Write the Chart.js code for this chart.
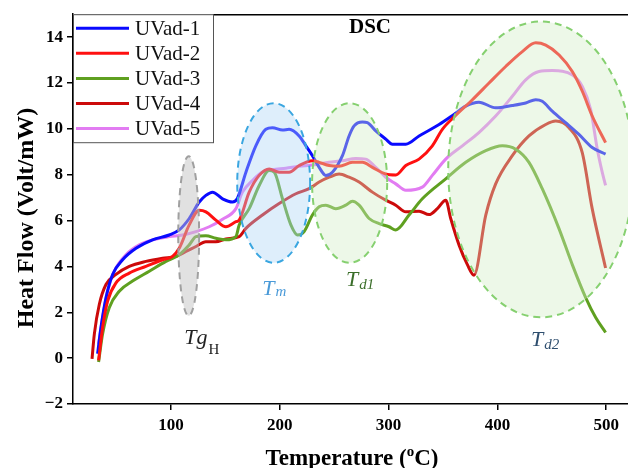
<!DOCTYPE html>
<html>
<head>
<meta charset="utf-8">
<script src="https://cdn.jsdelivr.net/npm/chart.js@4/dist/chart.umd.min.js"></script>
<style>
html,body{margin:0;padding:0;background:#fff;}
#wrap{position:relative;width:628px;height:468px;}
</style>
</head>
<body>
<div id="wrap"><canvas id="c" width="628" height="468"></canvas></div>
<script>
// ---- data ----
const seriesNames = ['UVad-1','UVad-2','UVad-3','UVad-4','UVad-5'];
const xTicks = [100,200,300,400,500];
const yTicks = [-2,0,2,4,6,8,10,12,14];

const uv1T = [32.6,35.7,40.3,46.4,55.6,67.9,83.1,98.4,107.6,116.8,126,132.1,138.2,147.4,156.6,160.9,168.9,178.1,187.2,193.3,202.5,208.6,217.8,224,230,236.2,242.3,248.4,257.6,263.7,268.3,275.9,280.5,288.2,297.4,303.5,315.8,328,346.4,360.1,370.9,383,398.4,413.7,426,435.2,441.2,450.4,462.7,474.9,487.1,499.4];
const uv1H = [0.19,1.34,2.63,3.65,4.29,4.79,5.16,5.37,5.59,6.09,6.81,7.10,7.24,6.95,6.81,6.95,8.11,9.27,9.98,10.05,9.95,9.98,9.69,9.26,8.83,8.32,7.97,8.11,8.83,9.69,10.13,10.3,10.27,9.91,9.55,9.33,9.33,9.69,10.19,10.63,10.99,11.16,10.92,11.02,11.13,11.27,11.2,10.77,10.27,9.76,9.19,8.9];

const uv2T = [33.5,37.2,41.8,49.5,61.7,77,92.3,101.5,107.6,116.8,126,132.1,141.3,150.5,159.7,162.7,171.9,181.1,190.3,199.4,208.6,217.8,230,236.2,245.4,254.5,266.8,276,285.1,297.4,306.6,315.8,328,340.2,349.4,361.1,377,392.3,407.6,422.9,435.2,444.4,456.7,468.8,478,487.1,499.4];
const uv2H = [-0.10,1.34,2.49,3.28,3.71,4.0,4.29,4.44,4.79,5.81,6.45,6.38,6.02,5.73,5.95,6.02,7.24,7.97,8.25,8.11,8.11,8.40,8.61,8.54,8.40,8.37,8.54,8.54,8.32,8.03,7.99,8.40,8.68,9.26,9.98,10.56,11.27,12.0,12.72,13.37,13.75,13.65,13.22,12.5,11.64,10.56,9.4];

const uv3T = [33.5,37.2,43.3,52.5,64.7,80.1,95.4,107.6,116.8,123,132.1,141.3,150.5,159.7,162.7,171.9,181.1,190.3,194.9,202.5,210.2,216.3,222.4,230,236.2,242.3,251.5,260.7,266.8,272.9,282.1,291.3,300.4,306.6,318.8,331,352.5,370.9,389.3,404.5,416.8,429,441.2,456.5,468.8,481.1,490.3,499.4];
const uv3H = [-0.17,1.05,2.20,2.92,3.36,3.79,4.22,4.51,4.94,5.30,5.34,5.23,5.16,5.30,5.81,6.52,7.53,8.18,8.11,6.95,5.81,5.37,5.52,6.24,6.60,6.67,6.52,6.67,6.84,6.67,6.09,5.87,5.73,5.59,6.24,6.95,7.82,8.54,9.05,9.26,9.11,8.54,7.39,5.66,4.08,2.64,1.77,1.12];

const uv4T = [27.5,29.6,34.2,40.3,49.5,61.7,77,92.3,104.6,113.8,123,132.1,141.3,150.5,162.7,168.9,184.1,199.4,214.8,227,236.2,245.4,254.5,263.7,272.9,285.1,297.4,306.6,315.8,328,337.2,344.8,352.5,357.1,364.7,372.4,378.5,389.3,398.4,413.7,429,444.4,453.6,465.8,477.9,487.1,499.4];
const uv4H = [-0.03,1.05,2.35,3.21,3.65,4.0,4.22,4.36,4.44,4.65,4.87,5.08,5.08,5.20,5.30,5.66,6.24,6.74,7.17,7.39,7.68,7.89,8.03,7.89,7.68,7.24,6.89,6.67,6.38,6.41,6.26,6.52,6.89,6.09,4.94,4.08,3.62,6.24,7.60,8.83,9.69,10.19,10.34,10.05,8.97,6.52,3.93];

const uv5T = [33.5,37.2,41.8,47.9,58.7,70.9,83.1,98.4,110.7,123,135.2,147.4,159.7,165.7,174.9,184.1,193.3,205.6,217.8,230,245.4,257.6,269.9,279,288.2,297.4,306.6,315.8,331,340.2,352.5,367.8,383,398.4,413.7,426,438.2,450.4,469,478,485.7,491.8,496.3,499.4];
const uv5H = [0.62,1.77,2.92,3.79,4.51,4.94,5.16,5.30,5.37,5.52,5.73,6.06,6.52,7.24,7.75,8.11,8.22,8.28,8.37,8.42,8.54,8.61,8.71,8.68,8.32,7.89,7.60,7.32,7.46,7.97,8.68,9.26,9.84,10.56,11.42,12.14,12.5,12.54,12.35,11.85,10.84,9.11,8.11,7.53];

// ---- styling / annotation config ----
const colors = ['#0a0aff','#ff1010','#5fa020','#cc0a0a','#e27cf2'];
const regions = [
  {cx:116.3, cy:5.33, rx:9.6,  ry:3.48, fill:'rgba(195,195,195,0.5)', stroke:'#a0a0a0'},
  {cx:194.4, cy:7.64, rx:33.5, ry:3.48, fill:'rgba(172,212,245,0.4)', stroke:'#3aa6e0'},
  {cx:264.2, cy:7.64, rx:34.5, ry:3.48, fill:'rgba(210,237,197,0.4)', stroke:'#86d070'},
  {cx:440.0, cy:8.23, rx:85.2, ry:6.45, fill:'rgba(210,237,197,0.4)', stroke:'#86d070'}
];
const regionLabels = [
  {x:112.2, y:0.63, main:'Tg', sub:'H', color:'#222222', subItalic:false, subDy:10},
  {x:183.9, y:2.75, main:'T',  sub:'m', color:'#4a9ad8', subItalic:true, subDy:1},
  {x:260.9, y:3.14, main:'T',  sub:'d1', color:'#3b6e2a', subItalic:true, subDy:3},
  {x:430.8, y:0.55, main:'T',  sub:'d2', color:'#2e4e6e', subItalic:true, subDy:3}
];

const Ts = [uv1T,uv2T,uv3T,uv4T,uv5T];
const Hs = [uv1H,uv2H,uv3H,uv4H,uv5H];
const datasets = seriesNames.map((n,i)=>({
  label:n,
  data:Ts[i].map((t,k)=>({x:t,y:Hs[i][k]})),
  borderColor:colors[i],
  backgroundColor:colors[i],
  borderWidth:3,
  pointRadius:0,
  fill:false,
  cubicInterpolationMode:'monotone',
  order: i===1 ? 0 : i+1
}));

const SERIF = '"Liberation Serif","Times New Roman",serif';

const overlay = {
  id:'overlay',
  afterDatasetsDraw(chart){
    const ctx = chart.ctx, xs = chart.scales.x, ys = chart.scales.y, a = chart.chartArea;
    ctx.save();
    ctx.beginPath(); ctx.rect(a.left, a.top, a.right-a.left, a.bottom-a.top); ctx.clip();
    regions.forEach(r=>{
      const cx = xs.getPixelForValue(r.cx), cy = ys.getPixelForValue(r.cy);
      const rx = Math.abs(xs.getPixelForValue(r.cx+r.rx)-cx);
      const ry = Math.abs(ys.getPixelForValue(r.cy+r.ry)-cy);
      ctx.beginPath(); ctx.ellipse(cx,cy,rx,ry,0,0,Math.PI*2);
      ctx.fillStyle = r.fill; ctx.fill();
      ctx.setLineDash([7,5]); ctx.lineWidth = 2; ctx.strokeStyle = r.stroke; ctx.stroke();
    });
    ctx.setLineDash([]);
    ctx.restore();
    ctx.save();
    // region labels
    regionLabels.forEach(l=>{
      const px = xs.getPixelForValue(l.x), py = ys.getPixelForValue(l.y);
      ctx.fillStyle = l.color; ctx.textBaseline='alphabetic'; ctx.textAlign='left';
      ctx.font = 'italic 22px '+SERIF;
      ctx.fillText(l.main, px, py);
      const w = ctx.measureText(l.main).width;
      ctx.font = (l.subItalic?'italic ':'')+'15px '+SERIF;
      ctx.fillText(l.sub, px+w+1, py+l.subDy);
    });
    // frame top line
    ctx.strokeStyle='#000'; ctx.lineWidth=1.5;
    ctx.beginPath(); ctx.moveTo(a.left, a.top+0.5); ctx.lineTo(chart.width, a.top+0.5); ctx.stroke();
    // DSC title
    ctx.fillStyle='#000'; ctx.font='bold 21px '+SERIF; ctx.textAlign='center';
    ctx.fillText('DSC', 370, 33);
    // legend
    const lx = a.left, ly = a.top, lw = 140, lh = 128;
    ctx.fillStyle='#fff'; ctx.fillRect(lx, ly, lw, lh);
    ctx.strokeStyle='#555'; ctx.lineWidth=1;
    ctx.strokeRect(lx+0.5, ly+0.5, lw, lh);
    chart.data.datasets.forEach((d,i)=>{
      const yy = ly + 14 + i*25.1;
      ctx.strokeStyle = d.borderColor; ctx.lineWidth = 3;
      ctx.beginPath(); ctx.moveTo(lx+3, yy); ctx.lineTo(lx+56, yy); ctx.stroke();
      ctx.fillStyle='#111'; ctx.font='21px '+SERIF; ctx.textAlign='left'; ctx.textBaseline='middle';
      ctx.fillText(d.label, lx+62, yy+1);
    });
    // axis titles
    ctx.textBaseline='alphabetic';
    ctx.save();
    ctx.translate(33, 218); ctx.rotate(-Math.PI/2);
    ctx.font='bold 24px '+SERIF; ctx.textAlign='center'; ctx.fillStyle='#000';
    ctx.fillText('Heat Flow (Volt/mW)', 0, 0);
    ctx.restore();
    const p1 = 'Temperature (', p2 = 'o', p3 = 'C)';
    ctx.font='bold 23px '+SERIF; const w1 = ctx.measureText(p1).width, w3 = ctx.measureText(p3).width;
    ctx.font='bold 15px '+SERIF; const w2 = ctx.measureText(p2).width;
    const total = w1+w2+w3; let sx = 352 - total/2; const by = 465;
    ctx.textAlign='left'; ctx.fillStyle='#000';
    ctx.font='bold 23px '+SERIF; ctx.fillText(p1, sx, by); sx+=w1;
    ctx.font='bold 15px '+SERIF; ctx.fillText(p2, sx, by-9); sx+=w2;
    ctx.font='bold 23px '+SERIF; ctx.fillText(p3, sx, by);
    ctx.restore();
  }
};

new Chart(document.getElementById('c'), {
  type:'line',
  data:{datasets},
  options:{
    responsive:false,
    animation:false,
    devicePixelRatio:1,
    layout:{padding:{top:12,right:0,left:0,bottom:0}},
    plugins:{legend:{display:false}, tooltip:{enabled:false}, title:{display:false}},
    scales:{
      x:{
        type:'linear', min:10, max:520,
        afterBuildTicks(s){ s.ticks = xTicks.map(v=>({value:v})); },
        afterFit(s){ s.height = 64; },
        grid:{display:true, drawOnChartArea:false, drawTicks:true, tickLength:6, color:'#000', lineWidth:1.5},
        border:{display:true, color:'#000', width:1.5},
        ticks:{color:'#000', font:{family:SERIF, size:17, weight:'bold'}, padding:5, maxRotation:0}
      },
      y:{
        type:'linear', min:-2, max:15,
        afterBuildTicks(s){ s.ticks = yTicks.map(v=>({value:v})); },
        afterFit(s){ s.width = 73; },
        grid:{display:true, drawOnChartArea:false, drawTicks:true, tickLength:6, color:'#000', lineWidth:1.5},
        border:{display:true, color:'#000', width:1.5},
        ticks:{color:'#000', font:{family:SERIF, size:17, weight:'bold'}, padding:4,
          callback:(v)=> v<0 ? '\u2212'+Math.abs(v) : String(v)}
      }
    }
  },
  plugins:[overlay]
});
</script>
</body>
</html>
